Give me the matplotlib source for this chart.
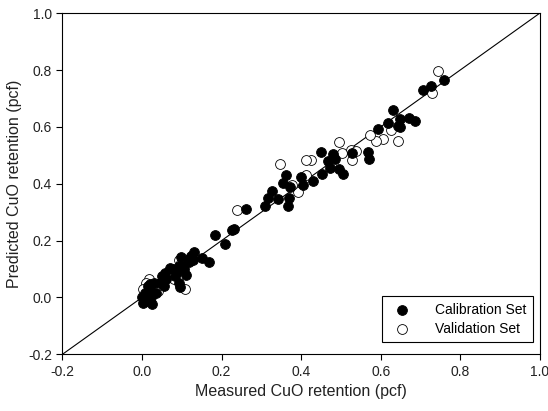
import matplotlib
matplotlib.use("Agg")
import matplotlib.pyplot as plt

plt.rcParams['font.family'] = ['Liberation Sans', 'DejaVu Sans']

cal_x = [0.758, 0.727, 0.706, 0.630, 0.672, 0.687, 0.619, 0.649, 0.649, 0.643, 0.593,
         0.569, 0.570, 0.529, 0.450, 0.480, 0.467, 0.486, 0.473, 0.496, 0.505, 0.452,
         0.431, 0.400, 0.404, 0.363, 0.354, 0.372, 0.369, 0.367, 0.341, 0.328, 0.316,
         0.309, 0.261, 0.232, 0.226, 0.208, 0.183, 0.169, 0.152, 0.131, 0.123, 0.117,
         0.111, 0.098, 0.093, 0.093, 0.095, 0.078, 0.070, 0.058, 0.056, 0.049, 0.031,
         0.026, 0.009, 0.007, 0.014, 0.018, 0.000, 0.003, 0.022, 0.036, 0.084, 0.102,
         0.119, 0.106, 0.060, 0.045, 0.012, 0.020, 0.128, 0.088]
cal_y = [0.764, 0.744, 0.730, 0.659, 0.630, 0.620, 0.612, 0.627, 0.600, 0.603, 0.592,
         0.513, 0.486, 0.507, 0.510, 0.504, 0.480, 0.486, 0.457, 0.453, 0.433, 0.433,
         0.410, 0.422, 0.395, 0.432, 0.401, 0.387, 0.348, 0.322, 0.346, 0.374, 0.350,
         0.322, 0.310, 0.240, 0.236, 0.188, 0.218, 0.123, 0.138, 0.160, 0.146, 0.123,
         0.078, 0.143, 0.111, 0.052, 0.035, 0.099, 0.104, 0.087, 0.040, 0.076, 0.052,
         -0.024, -0.012, 0.017, 0.040, 0.029, 0.000, -0.020, 0.000, 0.017, 0.076, 0.111,
         0.135, 0.099, 0.065, 0.050, 0.008, 0.048, 0.130, 0.090]

val_x = [0.745, 0.729, 0.626, 0.643, 0.605, 0.588, 0.573, 0.496, 0.528, 0.526, 0.537,
         0.504, 0.424, 0.413, 0.411, 0.391, 0.376, 0.346, 0.239, 0.109, 0.093, 0.080,
         0.040, 0.018, 0.009, 0.003, 0.098]
val_y = [0.797, 0.718, 0.588, 0.550, 0.559, 0.550, 0.571, 0.548, 0.484, 0.517, 0.515,
         0.507, 0.484, 0.484, 0.431, 0.372, 0.397, 0.471, 0.307, 0.029, 0.132, 0.064,
         0.023, 0.064, 0.052, 0.029, 0.120]

ticks = [-0.2, 0.0, 0.2, 0.4, 0.6, 0.8, 1.0]
tick_labels = ['-0.2', '0.0', '0.2', '0.4', '0.6', '0.8', '1.0']

fig = plt.figure(figsize=(5.48, 4.11), dpi=100)
ax = fig.add_axes([0.114, 0.138, 0.871, 0.830])

ax.plot([-0.2, 1.0], [-0.2, 1.0], color='black', lw=0.8, zorder=1)
ax.scatter(cal_x, cal_y, s=50, facecolor='black', edgecolor='black', linewidth=0.6,
           label='Calibration Set', zorder=3)
ax.scatter(val_x, val_y, s=50, facecolor='white', edgecolor='black', linewidth=0.6,
           label='Validation Set', zorder=2)

ax.set_xlim(-0.2, 1.0)
ax.set_ylim(-0.2, 1.0)
ax.set_xticks(ticks)
ax.set_xticklabels(tick_labels)
ax.set_yticks(ticks)
ax.set_yticklabels(tick_labels)
ax.tick_params(direction='out', length=4, width=0.8, labelsize=10, top=False, right=False,
               labelcolor='#222222')
ax.set_xlabel('Measured CuO retention (pcf)', fontsize=11.5, labelpad=4, color='#222222')
ax.set_ylabel('Predicted CuO retention (pcf)', fontsize=11.5, labelpad=4, color='#222222')
for sp in ax.spines.values():
    sp.set_linewidth(0.8)

leg = ax.legend(loc='lower right', bbox_to_anchor=(0.985, 0.035), fontsize=10,
                frameon=True, fancybox=False, edgecolor='black', framealpha=1,
                handletextpad=1.4, borderpad=0.45, labelspacing=0.4, borderaxespad=0)
leg.get_frame().set_linewidth(0.8)

fig.savefig('out.png', dpi=100)
